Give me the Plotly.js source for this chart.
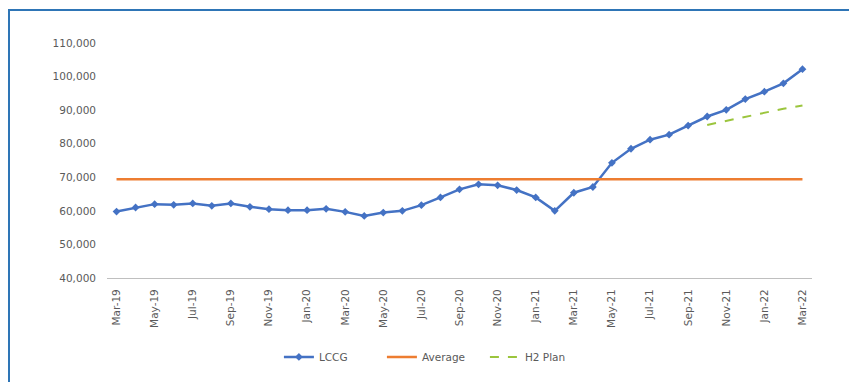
<!DOCTYPE html>
<html>
<head>
<meta charset="utf-8">
<script src="https://cdn.plot.ly/plotly-3.0.1.min.js"></script>
<style>
  html, body { margin: 0; padding: 0; background: #ffffff; }
  #wrap { position: relative; width: 849px; height: 382px; }
  #chart { position: absolute; left: 0; top: 0; width: 849px; height: 382px; }
  #frame {
    position: absolute; left: 8px; top: 9px; right: 0; bottom: 0;
    border-left: 2px solid #2E75B6; border-top: 2px solid #2E75B6;
    pointer-events: none;
  }
</style>
</head>
<body>
<div id="wrap">
  <div id="chart"></div>
  <div id="frame"></div>
</div>
<script>
// Monthly periods, Mar-19 to Mar-22
const months = [
  'Mar-19','Apr-19','May-19','Jun-19','Jul-19','Aug-19','Sep-19','Oct-19','Nov-19','Dec-19',
  'Jan-20','Feb-20','Mar-20','Apr-20','May-20','Jun-20','Jul-20','Aug-20','Sep-20','Oct-20',
  'Nov-20','Dec-20','Jan-21','Feb-21','Mar-21','Apr-21','May-21','Jun-21','Jul-21','Aug-21',
  'Sep-21','Oct-21','Nov-21','Dec-21','Jan-22','Feb-22','Mar-22'
];

// LCCG monthly values
const lccg = [
  59800, 61000, 62000, 61800, 62200, 61500, 62200, 61200, 60500, 60200,
  60200, 60600, 59700, 58500, 59500, 60000, 61700, 64000, 66400, 67900,
  67600, 66200, 64000, 60000, 65400, 67100, 74300, 78500, 81200, 82700,
  85400, 88100, 90100, 93300, 95500, 98000, 102200
];

// Average level over the period
const averageValue = 69400;
const average = months.map(() => averageValue);

// H2 plan, Oct-21 to Mar-22
const planMonths = ['Oct-21','Nov-21','Dec-21','Jan-22','Feb-22','Mar-22'];
const plan = [85600, 86800, 88000, 89300, 90400, 91400];

// Axis tick labels (every second month)
const tickLabels = months.filter((m, i) => i % 2 === 0);
const yTicks = [40000, 50000, 60000, 70000, 80000, 90000, 100000, 110000];

const font = { family: 'DejaVu Sans, Arial, sans-serif', size: 10.5, color: '#5a5a5a' };

const traces = [
  {
    x: months, y: lccg, name: 'LCCG', type: 'scatter', mode: 'lines+markers',
    line: { color: '#4472C4', width: 2.5 },
    marker: { symbol: 'diamond', size: 6, color: '#4472C4' }
  },
  {
    x: months, y: average, name: 'Average', type: 'scatter', mode: 'lines',
    line: { color: '#ED7D31', width: 2.5 }
  },
  {
    x: planMonths, y: plan, name: 'H2 Plan', type: 'scatter', mode: 'lines',
    line: { color: '#9BC53D', width: 2, dash: 'dash' }
  }
];

const layout = {
  width: 849, height: 382,
  margin: { l: 107, r: 37, t: 43, b: 103 },
  paper_bgcolor: '#ffffff',
  plot_bgcolor: '#ffffff',
  font: font,
  showlegend: true,
  legend: {
    orientation: 'h', x: 0.463, xanchor: 'center', y: -0.33, yanchor: 'middle',
    entrywidth: 58,
    font: font, bgcolor: 'rgba(0,0,0,0)'
  },
  xaxis: {
    type: 'category',
    categoryorder: 'array', categoryarray: months,
    range: [-0.5, months.length - 0.5],
    tickmode: 'array', tickvals: tickLabels, ticktext: tickLabels,
    tickangle: -90,
    showgrid: false, zeroline: false,
    showline: true, linecolor: '#BFBFBF', linewidth: 1,
    ticks: '', ticklabelstandoff: 6, tickfont: font
  },
  yaxis: {
    range: [40000, 110000],
    tickmode: 'array', tickvals: yTicks,
    tickformat: ',d',
    showgrid: false, zeroline: false, showline: false,
    ticks: '', ticklabelstandoff: 10,
    tickfont: font
  }
};

Plotly.newPlot('chart', traces, layout, { staticPlot: true, displayModeBar: false });
</script>
</body>
</html>
